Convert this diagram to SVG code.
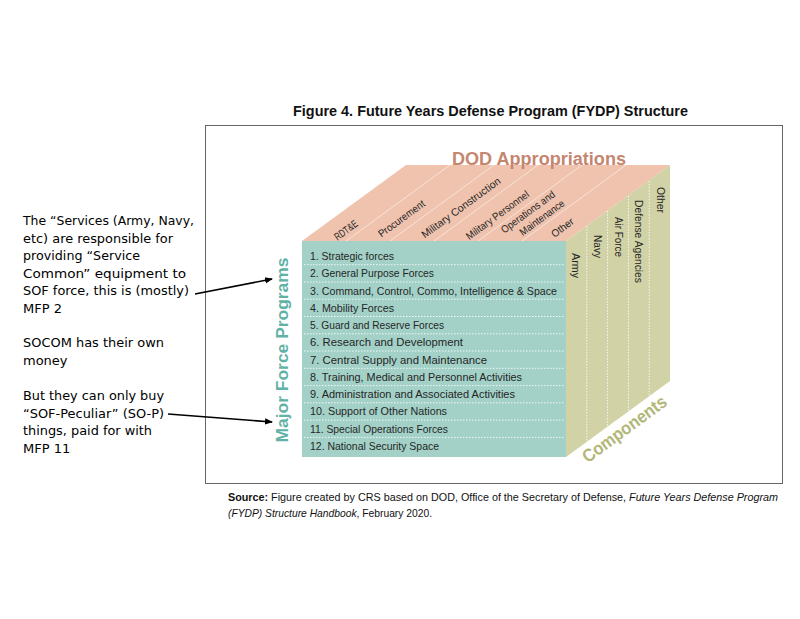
<svg xmlns="http://www.w3.org/2000/svg" width="800" height="619" viewBox="0 0 800 619">
<defs>
<marker id="ah" markerWidth="8" markerHeight="8" refX="7" refY="4" orient="auto" markerUnits="userSpaceOnUse">
<path d="M0,0.8 L8,4 L0,7.2 Z" fill="#000"/>
</marker>
<style>
.note{font-family:"DejaVu Sans",Verdana,sans-serif;font-size:13px;fill:#000}
.row{font-family:"Liberation Sans",Arial,sans-serif;font-size:11.5px;fill:#262626}
.lab{font-family:"Liberation Sans",Arial,sans-serif;font-size:10.5px;fill:#262626}
.sep{stroke:#fff;stroke-width:1;stroke-dasharray:1.5 1.5;fill:none;opacity:0.85}
.div{stroke:#fff;stroke-width:0.9;fill:none;opacity:0.6}
.arr{stroke:#000;stroke-width:1.6;fill:none}
</style>
</defs>
<rect width="800" height="619" fill="#fff"/>
<g id="figure-frame">
<rect x="205.5" y="125.5" width="577" height="358" fill="none" stroke="#666" stroke-width="1"/>
<text x="490.5" y="116" text-anchor="middle" font-family="Liberation Sans,Arial,sans-serif" font-weight="bold" font-size="14.5" textLength="395" lengthAdjust="spacingAndGlyphs" fill="#111">Figure 4. Future Years Defense Program (FYDP) Structure</text>
</g>
<g id="top-face">
<polygon points="302,241 566,241 670,165 406,165" fill="#efc3ae"/>
<line class="div" x1="346" y1="241" x2="450" y2="165"/>
<line class="div" x1="390" y1="241" x2="494" y2="165"/>
<line class="div" x1="434" y1="241" x2="538" y2="165"/>
<line class="div" x1="478" y1="241" x2="582" y2="165"/>
<line class="div" x1="522" y1="241" x2="626" y2="165"/>
<text class="lab" text-anchor="middle" transform="translate(348.1,233) rotate(-36.2)" textLength="26" lengthAdjust="spacingAndGlyphs">RDT&amp;E</text>
<text class="lab" text-anchor="middle" transform="translate(403.6,221.5) rotate(-36.2)" textLength="55" lengthAdjust="spacingAndGlyphs">Procurement</text>
<text class="lab" text-anchor="middle" transform="translate(463.1,210.5) rotate(-36.2)" textLength="95" lengthAdjust="spacingAndGlyphs">Military Construction</text>
<text class="lab" text-anchor="middle" transform="translate(499.6,218) rotate(-36.2)" textLength="75" lengthAdjust="spacingAndGlyphs">Military Personnel</text>
<text class="lab" text-anchor="middle" transform="translate(530.1,214.8) rotate(-36.2)" textLength="64" lengthAdjust="spacingAndGlyphs">Operations and</text>
<text class="lab" text-anchor="middle" transform="translate(544.1,220.5) rotate(-36.2)" textLength="53" lengthAdjust="spacingAndGlyphs">Maintenance</text>
<text class="lab" text-anchor="middle" transform="translate(564.6,230.5) rotate(-36.2)" textLength="25" lengthAdjust="spacingAndGlyphs">Other</text>
<text x="539" y="165" text-anchor="middle" font-family="Liberation Sans,Arial,sans-serif" font-weight="bold" font-size="18" textLength="174" lengthAdjust="spacingAndGlyphs" fill="#c58670">DOD Appropriations</text>
</g>
<g id="right-face">
<polygon points="566,241 670,165 670,381 566,457" fill="#d1d2a6"/>
<line class="sep" x1="586.8" y1="226" x2="586.8" y2="441"/>
<line class="sep" x1="607.6" y1="211" x2="607.6" y2="426"/>
<line class="sep" x1="628.4" y1="196" x2="628.4" y2="411"/>
<line class="sep" x1="649.2" y1="181" x2="649.2" y2="396"/>
<text class="lab" transform="translate(572.3,253) rotate(90)" textLength="25" lengthAdjust="spacingAndGlyphs">Army</text>
<text class="lab" transform="translate(593.8,235) rotate(90)" textLength="23" lengthAdjust="spacingAndGlyphs">Navy</text>
<text class="lab" transform="translate(615.3,217) rotate(90)" textLength="40" lengthAdjust="spacingAndGlyphs">Air Force</text>
<text class="lab" transform="translate(635.3,200) rotate(90)" textLength="83" lengthAdjust="spacingAndGlyphs">Defense Agencies</text>
<text class="lab" transform="translate(657.3,187) rotate(90)" textLength="26" lengthAdjust="spacingAndGlyphs">Other</text>
<text text-anchor="middle" transform="translate(628,434) rotate(-36.2)" font-family="Liberation Sans,Arial,sans-serif" font-weight="bold" font-size="18" textLength="100" lengthAdjust="spacingAndGlyphs" fill="#b3b679">Components</text>
</g>
<g id="front-face">
<rect x="302" y="241" width="264" height="216" fill="#a3d1c7"/>
<line class="sep" x1="304" y1="264.7" x2="564" y2="264.7"/>
<line class="sep" x1="304" y1="282" x2="564" y2="282"/>
<line class="sep" x1="304" y1="299.2" x2="564" y2="299.2"/>
<line class="sep" x1="304" y1="316.5" x2="564" y2="316.5"/>
<line class="sep" x1="304" y1="333.8" x2="564" y2="333.8"/>
<line class="sep" x1="304" y1="351" x2="564" y2="351"/>
<line class="sep" x1="304" y1="368.3" x2="564" y2="368.3"/>
<line class="sep" x1="304" y1="385.6" x2="564" y2="385.6"/>
<line class="sep" x1="304" y1="402.8" x2="564" y2="402.8"/>
<line class="sep" x1="304" y1="420.1" x2="564" y2="420.1"/>
<line class="sep" x1="304" y1="437.4" x2="564" y2="437.4"/>
<text class="row" x="310" y="260" textLength="84" lengthAdjust="spacingAndGlyphs">1. Strategic forces</text>
<text class="row" x="310" y="277.3" textLength="124" lengthAdjust="spacingAndGlyphs">2. General Purpose Forces</text>
<text class="row" x="310" y="294.5" textLength="247" lengthAdjust="spacingAndGlyphs">3. Command, Control, Commo, Intelligence &amp; Space</text>
<text class="row" x="310" y="311.8" textLength="84" lengthAdjust="spacingAndGlyphs">4. Mobility Forces</text>
<text class="row" x="310" y="329.1" textLength="134" lengthAdjust="spacingAndGlyphs">5. Guard and Reserve Forces</text>
<text class="row" x="310" y="346.4" textLength="153" lengthAdjust="spacingAndGlyphs">6. Research and Development</text>
<text class="row" x="310" y="363.6" textLength="177" lengthAdjust="spacingAndGlyphs">7. Central Supply and Maintenance</text>
<text class="row" x="310" y="380.9" textLength="212" lengthAdjust="spacingAndGlyphs">8. Training, Medical and Personnel Activities</text>
<text class="row" x="310" y="398.2" textLength="205" lengthAdjust="spacingAndGlyphs">9. Administration and Associated Activities</text>
<text class="row" x="310" y="415.4" textLength="137" lengthAdjust="spacingAndGlyphs">10. Support of Other Nations</text>
<text class="row" x="310" y="432.7" textLength="138" lengthAdjust="spacingAndGlyphs">11. Special Operations Forces</text>
<text class="row" x="310" y="450" textLength="129" lengthAdjust="spacingAndGlyphs">12. National Security Space</text>
<text text-anchor="middle" transform="translate(288,350) rotate(-90)" font-family="Liberation Sans,Arial,sans-serif" font-weight="bold" font-size="16.5" textLength="185" lengthAdjust="spacingAndGlyphs" fill="#5fb2a6">Major Force Programs</text>
</g>
<g id="note-services">
<text class="note" x="23" y="225" textLength="171" lengthAdjust="spacingAndGlyphs">The “Services (Army, Navy,</text>
<text class="note" x="23" y="242.5" textLength="150" lengthAdjust="spacingAndGlyphs">etc) are responsible for</text>
<text class="note" x="23" y="260" textLength="117" lengthAdjust="spacingAndGlyphs">providing “Service</text>
<text class="note" x="23" y="277.5" textLength="163" lengthAdjust="spacingAndGlyphs">Common” equipment to</text>
<text class="note" x="23" y="295" textLength="166" lengthAdjust="spacingAndGlyphs">SOF force, this is (mostly)</text>
<text class="note" x="23" y="312.5">MFP 2</text>
</g>
<g id="note-socom">
<text class="note" x="23" y="347" textLength="141" lengthAdjust="spacingAndGlyphs">SOCOM has their own</text>
<text class="note" x="23" y="364.5">money</text>
</g>
<g id="note-sofp">
<text class="note" x="23" y="400" textLength="141" lengthAdjust="spacingAndGlyphs">But they can only buy</text>
<text class="note" x="23" y="417.5" textLength="141" lengthAdjust="spacingAndGlyphs">“SOF-Peculiar” (SO-P)</text>
<text class="note" x="23" y="435" textLength="129" lengthAdjust="spacingAndGlyphs">things, paid for with</text>
<text class="note" x="23" y="452.5">MFP 11</text>
</g>
<g id="connectors">
<line class="arr" x1="195" y1="294" x2="272" y2="279" marker-end="url(#ah)"/>
<line class="arr" x1="168" y1="414" x2="272" y2="422" marker-end="url(#ah)"/>
</g>
<g id="source">
<text x="228" y="501" font-family="Liberation Sans,Arial,sans-serif" font-size="10.5" fill="#111" textLength="550" lengthAdjust="spacingAndGlyphs"><tspan font-weight="bold">Source:</tspan> Figure created by CRS based on DOD, Office of the Secretary of Defense, <tspan font-style="italic">Future Years Defense Program</tspan></text>
<text x="228" y="517" font-family="Liberation Sans,Arial,sans-serif" font-size="10.5" fill="#111" textLength="204" lengthAdjust="spacingAndGlyphs"><tspan font-style="italic">(FYDP) Structure Handbook</tspan>, February 2020.</text>
</g>
</svg>
